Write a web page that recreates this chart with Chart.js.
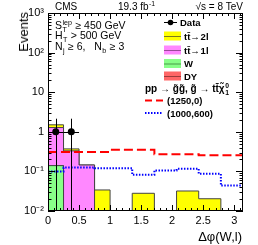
<!DOCTYPE html>
<html>
<head>
<meta charset="utf-8">
<script src="https://cdn.jsdelivr.net/npm/chart.js@4.4.1/dist/chart.umd.min.js"></script>
<style>
html, body { margin: 0; padding: 0; background: #fff; }
#marco { position: relative; width: 258px; height: 245px; }
#ejeY {
    position: absolute; left: 17px; top: 12px;
    font: 13px 'Liberation Sans', Arial, sans-serif; color: #000;
    writing-mode: vertical-rl; transform: rotate(180deg);
    line-height: 14px; white-space: nowrap;
}
</style>
</head>
<body>
<div id="marco">
<canvas id="grafica" width="258" height="245"></canvas>
<div id="ejeY">Events</div>
</div>
<script>
// Bordes de los bins en delta phi (el ultimo termina en pi)
const binEdges = [0, 0.25, 0.5, 0.75, 1.0, 1.357, 1.714, 2.071, 2.428, 2.785, Math.PI];

// Fondos apilados (eventos por bin)
const wJets  = [0.14, 0, 0, 0, 0, 0, 0, 0, 0, 0];
const dyJets = [0, 0, 0, 0, 0, 0, 0, 0, 0, 0];
const tt1l   = [1.14, 0.33, 0.145, 0, 0, 0, 0, 0, 0, 0];
const tt2l   = [0.22, 0.04, 0, 0.034, 0, 0.028, 0, 0.032, 0.0204, 0];

// Señales
const sig1250 = [0.31, 0.31, 0.31, 0.31, 0.35, 0.35, 0.27, 0.27, 0.255, 0.255];
const sig1000 = [0.10, 0.125, 0.125, 0.12, 0.12, 0.082, 0.106, 0.116, 0.087, 0.044];

// Datos
const dataX = [0.125, 0.375];
const dataY = [1, 1];
const dataErrUp = [1.14, 1.14];
const dataErrLo = [1, 1];
const dataXErr = [0.125, 0.125];

// Ticks
const xTicks = [0, 0.5, 1, 1.5, 2, 2.5, 3];
const yTicks = [0.01, 0.1, 1, 10, 100, 1000];
const yTickLabels = ['10⁻²', '10⁻¹', '1', '10', '10²', '10³'];

const FONT = "'Liberation Sans', Arial, Helvetica, sans-serif";
const FLOOR = 1e-4;

const sumArrays = (...arrs) => arrs[0].map((_, i) => arrs.reduce((s, a) => s + a[i], 0));

// Histograma escalonado que baja hasta el eje en los extremos
const histPoints = vals => {
    const n = vals.length;
    const pts = [{ x: binEdges[0], y: FLOOR }];
    vals.forEach((v, i) => pts.push({ x: binEdges[i], y: v > 0 ? v : FLOOR }));
    pts.push({ x: binEdges[n], y: vals[n - 1] > 0 ? vals[n - 1] : FLOOR });
    pts.push({ x: binEdges[n], y: FLOOR });
    return pts;
};

// Linea escalonada sin bajar al eje
const stepPoints = vals => [
    ...vals.map((v, i) => ({ x: binEdges[i], y: v })),
    { x: binEdges[vals.length], y: vals[vals.length - 1] }
];

const cumW = wJets;
const cumDY = sumArrays(wJets, dyJets);
const cum1l = sumArrays(wJets, dyJets, tt1l);
const cum2l = sumArrays(wJets, dyJets, tt1l, tt2l);

const histDataset = (label, vals, color, order) => ({
    label,
    data: histPoints(vals),
    stepped: 'before',
    fill: 'start',
    backgroundColor: color,
    borderColor: '#444',
    borderWidth: 1,
    pointRadius: 0,
    order
});

// Texto con subindices y superindices
const drawRich = (ctx, x, y, parts, size, weight) => {
    let cx = x;
    parts.forEach(p => {
        if (typeof p === 'string') {
            ctx.font = `${weight} ${size}px ${FONT}`;
            ctx.fillText(p, cx, y);
            cx += ctx.measureText(p).width;
            return;
        }
        ctx.font = `${weight} ${size * 0.68}px ${FONT}`;
        let w = 0;
        if (p.sup) {
            ctx.fillText(p.sup, cx + 0.5, y - size * 0.42);
            w = ctx.measureText(p.sup).width;
        }
        if (p.sub) {
            ctx.fillText(p.sub, cx + 0.5, y + size * 0.25);
            w = Math.max(w, ctx.measureText(p.sub).width);
        }
        cx += w + 1;
    });
    return cx;
};

const decoracion = {
    id: 'decoracion',
    afterDatasetsDraw(chart) {
        const ctx = chart.ctx;
        const xs = chart.scales.x, ys = chart.scales.y;
        const area = chart.chartArea;
        // barras de error de los datos
        ctx.save();
        ctx.beginPath();
        ctx.rect(area.left, area.top, area.right - area.left, area.bottom - area.top);
        ctx.clip();
        ctx.strokeStyle = '#000';
        ctx.lineWidth = 1;
        dataX.forEach((x, i) => {
            const px = Math.round(xs.getPixelForValue(x)) + 0.5;
            const py = Math.round(ys.getPixelForValue(dataY[i])) + 0.5;
            const lo = dataY[i] - dataErrLo[i];
            const yLo = lo > 0 ? ys.getPixelForValue(lo) : area.bottom;
            const yHi = ys.getPixelForValue(dataY[i] + dataErrUp[i]);
            ctx.beginPath();
            ctx.moveTo(px, yHi);
            ctx.lineTo(px, yLo);
            ctx.moveTo(xs.getPixelForValue(x - dataXErr[i]), py);
            ctx.lineTo(xs.getPixelForValue(x + dataXErr[i]), py);
            ctx.stroke();
        });
        ctx.restore();
    },
    afterDraw(chart) {
        const ctx = chart.ctx;
        const xs = chart.scales.x, ys = chart.scales.y;
        const { left, right, top, bottom } = chart.chartArea;
        ctx.save();
        ctx.strokeStyle = '#000';
        ctx.lineWidth = 1;
        ctx.strokeRect(left + 0.5, top + 0.5, right - left - 1, bottom - top - 1);

        // marcas del eje y (log)
        ctx.beginPath();
        for (let e = -2; e < 3; e++) {
            for (let m = 1; m < 10; m++) {
                const v = m * Math.pow(10, e);
                const py = Math.round(ys.getPixelForValue(v)) + 0.5;
                const len = m === 1 ? 7 : 3.5;
                ctx.moveTo(left, py); ctx.lineTo(left + len, py);
                ctx.moveTo(right, py); ctx.lineTo(right - len, py);
            }
        }
        // marcas del eje x
        for (let k = 0; k <= 31; k++) {
            const v = k * 0.1;
            const px = Math.round(xs.getPixelForValue(v)) + 0.5;
            const len = k % 5 === 0 ? 6 : 3;
            ctx.moveTo(px, bottom); ctx.lineTo(px, bottom - len);
            ctx.moveTo(px, top); ctx.lineTo(px, top + len);
        }
        ctx.stroke();

        ctx.fillStyle = '#000';
        ctx.textBaseline = 'alphabetic';
        ctx.textAlign = 'left';

        // cabecera
        drawRich(ctx, 55, 10, ['CMS'], 10, 'normal');
        drawRich(ctx, 118, 10, ['19.3 fb', { sup: '-1' }], 10, 'normal');
        ctx.font = `normal 10px ${FONT}`;
        ctx.textAlign = 'right';
        ctx.fillText('√s = 8 TeV', 243, 10);
        ctx.textAlign = 'left';

        // cortes
        drawRich(ctx, 55, 29, ['S', { sub: 'T', sup: 'lep' }, ' ≥ 450 GeV'], 10.5, 'normal');
        drawRich(ctx, 55, 39, ['H', { sub: 'T' }, ' > 500 GeV'], 10.5, 'normal');
        drawRich(ctx, 55, 50, ['N', { sub: 'j' }, ' ≥ 6,   N', { sub: 'b' }, ' ≥ 3'], 10.5, 'normal');

        // titulo del eje x
        ctx.font = `normal 13px ${FONT}`;
        ctx.textAlign = 'right';
        ctx.fillText('Δφ(W,l)', 242, 241);
        ctx.textAlign = 'left';

        // leyenda
        const lx = 164, lw = 17, tx = 184;
        // Data
        ctx.beginPath();
        ctx.moveTo(lx, 22.5); ctx.lineTo(lx + 13, 22.5);
        ctx.stroke();
        ctx.beginPath();
        ctx.arc(lx + 6.5, 22.5, 2.8, 0, 2 * Math.PI);
        ctx.fill();
        drawRich(ctx, 180, 26, ['Data'], 9.5, 'bold');

        const boxes = [
            { y: 36, fill: '#ffff00', line: '#7a7a20', parts: ['tt\u0304\u2192\u200a2l'] },
            { y: 50, fill: '#ff88ff', line: '#9a4a9a', parts: ['tt\u0304\u2192\u200a1l'] },
            { y: 63.5, fill: '#88ff88', line: '#4a9a4a', parts: ['W'] },
            { y: 76, fill: '#ff6666', line: '#9a3a3a', parts: ['DY'] }
        ];
        boxes.forEach(b => {
            ctx.fillStyle = b.fill;
            ctx.fillRect(lx, b.y - 4.5, lw, 9);
            ctx.strokeStyle = b.line;
            ctx.beginPath();
            ctx.moveTo(lx, b.y + 0.5); ctx.lineTo(lx + lw, b.y + 0.5);
            ctx.stroke();
            ctx.fillStyle = '#000';
            drawRich(ctx, tx, b.y + 3.5, b.parts, 9.5, 'bold');
        });

        drawRich(ctx, 145, 92, ['pp \u2192 g\u0303g\u0303, g\u0303 \u2192 tt\u0304\u03c7\u0303', { sub: '1', sup: '0' }], 10, 'bold');

        ctx.lineWidth = 2;
        ctx.strokeStyle = '#ff0000';
        ctx.setLineDash([7, 4]);
        ctx.beginPath();
        ctx.moveTo(145, 100.5); ctx.lineTo(163, 100.5);
        ctx.stroke();
        ctx.strokeStyle = '#0000ff';
        ctx.setLineDash([1.5, 1.5]);
        ctx.beginPath();
        ctx.moveTo(145, 113); ctx.lineTo(163, 113);
        ctx.stroke();
        ctx.setLineDash([]);
        drawRich(ctx, 167, 104, ['(1250,0)'], 9.5, 'bold');
        drawRich(ctx, 167, 117, ['(1000,600)'], 9.5, 'bold');
        ctx.restore();
    }
};

const ctx = document.getElementById('grafica').getContext('2d');
new Chart(ctx, {
    type: 'line',
    data: {
        datasets: [
            histDataset('tt→2l', cum2l, '#ffff00', 10),
            histDataset('tt→1l', cum1l, '#ff88ff', 9),
            histDataset('DY', cumDY, '#ff6666', 8),
            histDataset('W', cumW, '#88ff88', 7),
            {
                label: '(1250,0)',
                data: stepPoints(sig1250),
                stepped: 'before',
                fill: false,
                borderColor: '#ff0000',
                borderWidth: 2,
                borderDash: [9, 4],
                pointRadius: 0,
                order: 2
            },
            {
                label: '(1000,600)',
                data: stepPoints(sig1000),
                stepped: 'before',
                fill: false,
                borderColor: '#0000ff',
                borderWidth: 2,
                borderDash: [1.5, 1.5],
                pointRadius: 0,
                order: 1
            },
            {
                label: 'Data',
                data: dataX.map((x, i) => ({ x, y: dataY[i] })),
                showLine: false,
                pointRadius: 3.5,
                pointBackgroundColor: '#000',
                pointBorderWidth: 0,
                order: 0
            }
        ]
    },
    options: {
        responsive: false,
        animation: false,
        layout: { padding: { left: 0, right: 15, top: 13, bottom: 14 } },
        plugins: { legend: { display: false }, tooltip: { enabled: false } },
        scales: {
            x: {
                type: 'linear',
                min: 0,
                max: Math.PI,
                grid: { display: false, drawTicks: false },
                border: { display: false },
                afterBuildTicks: s => { s.ticks = xTicks.map(v => ({ value: v })); },
                afterFit: s => { s.height = 20; },
                ticks: {
                    font: { family: FONT, size: 11 },
                    color: '#000',
                    padding: 3,
                    maxRotation: 0,
                    autoSkip: false,
                    callback: v => String(v)
                }
            },
            y: {
                type: 'logarithmic',
                min: 0.01,
                max: 1000,
                grid: { display: false, drawTicks: false },
                border: { display: false },
                afterBuildTicks: s => { s.ticks = yTicks.map(v => ({ value: v })); },
                afterFit: s => { s.width = 48; },
                ticks: {
                    font: { family: FONT, size: 11 },
                    color: '#000',
                    padding: 4,
                    autoSkip: false,
                    callback: v => yTickLabels[yTicks.indexOf(v)]
                }
            }
        }
    },
    plugins: [decoracion]
});
</script>
</body>
</html>
